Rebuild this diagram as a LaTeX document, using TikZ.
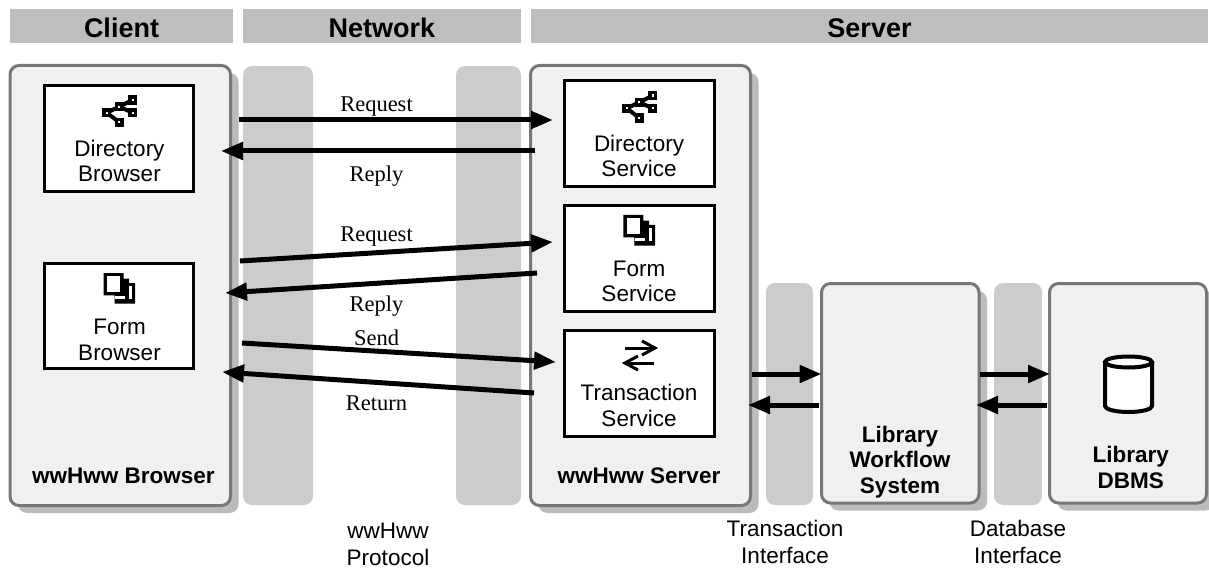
\documentclass[tikz,border=0pt]{standalone}
\usepackage{fontspec}
\setmainfont{Liberation Sans}
\newfontfamily\serifface{Liberation Serif}
\usetikzlibrary{arrows.meta}
\usetikzlibrary{shadows}

\definecolor{headgray}{HTML}{BEBEBE}
\definecolor{columngray}{HTML}{CCCCCC}
\definecolor{panelgray}{HTML}{F0F0F0}
\definecolor{bordergray}{HTML}{777777}
\definecolor{shadowgray}{HTML}{BBBBBB}

\tikzset{
	headbar/.style={fill=headgray, anchor=north west, inner sep=0pt, outer sep=0pt, text height=22.6pt, text depth=0pt, font=\fontsize{27}{30}\selectfont\bfseries},
	column/.style={fill=columngray, rounded corners=9pt, anchor=north west, inner sep=0pt, outer sep=0pt},
	panel/.style={fill=panelgray, draw=bordergray, line width=3pt, rounded corners=9pt, anchor=north west, inner sep=0pt, outer sep=0pt,
		drop shadow={shadow xshift=8pt, shadow yshift=-7.5pt, fill=shadowgray, opacity=1}},
	servicebox/.style={fill=white, draw=black, line width=3pt, anchor=north west, inner sep=0pt, outer sep=0pt},
	plain/.style={font=\fontsize{22.5}{25.3}\selectfont, align=center, inner sep=0pt, anchor=base},
	footer/.style={font=\fontsize{22.5}{26.7}\selectfont, align=center, inner sep=0pt, anchor=base},
	strong/.style={font=\fontsize{22.5}{25.5}\selectfont\bfseries, align=center, inner sep=0pt, anchor=base},
	msg/.style={font=\fontsize{22.5}{25}\serifface\selectfont, inner sep=0pt, anchor=base},
	flow/.style={line width=5pt, -{Triangle[length=22pt, width=17pt]}},
	treeicon/.pic={
		\draw[line width=4pt] (-12.6,6) -- (0,0) -- (13.4,-6.7);
		\draw[line width=4pt] (0,0) -- (13.4,6);
		\draw[line width=4pt] (-12.6,6) -- (0,15.6);
		\foreach \dotx/\doty in {-12.6/6, 0/0, 13.4/-6.7, 13.4/6, 0/15.6}
			\draw[line width=3.6pt, fill=white] (\dotx-2.9,\doty-2.9) rectangle (\dotx+2.9,\doty+2.9);
	},
	formicon/.pic={
		\fill (0,0) -- (20,0) -- (20,5.7) -- (25.7,5.7) -- (25.7,10) -- (31.7,10) -- (31.7,30.7) -- (11,30.7) -- (11,22.3) -- (0,22.3) -- cycle;
		\fill[white] (3.4,3.3) rectangle (16.7,19);
		\fill[white] (11.7,23.3) rectangle (21.7,25.7);
		\fill[white] (25.7,13) rectangle (28.4,25.7);
	},
	transicon/.pic={
		\draw[line width=3pt] (0,0) -- (30,0);
		\draw[line width=3pt] (17,-7) -- (30,0) -- (17,7);
		\draw[line width=3pt] (29,15) -- (0,15);
		\draw[line width=3pt] (13,8) -- (0,15) -- (13,22);
	},
}

\begin{document}
\begin{tikzpicture}[x=1pt, y=-1pt]
		\useasboundingbox (0,0) rectangle (1209,569);

		% Header bars
		\foreach \name/\xa/\wid/\word in {headclient/10/223/Client, headnetwork/243/278/Network, headserver/531/677/Server}
		\node[headbar, minimum width=\wid pt, minimum height=34pt] (\name) at (\xa,9) {\word};

		% Grey protocol columns
		\foreach \name/\xa/\ya/\wid/\hei in {netleft/243/66/70/439, netright/456/66/65/439, txcolumn/766/283/47/222, dbcolumn/994/283/48/222}
		\node[column, minimum width=\wid pt, minimum height=\hei pt] (\name) at (\xa,\ya) {};

		% Main panels
		\foreach \name/\xa/\ya/\wid/\hei in {browser/10/65.5/220.5/440, server/530.5/65.5/220/440, workflow/821.5/283.5/157.5/219.5, dbms/1049.5/283.5/157/219.5}
		\node[panel, minimum width=\wid pt, minimum height=\hei pt] (\name) at (\xa,\ya) {};

		% White boxes
		\foreach \name/\xa/\ya/\wid/\hei in {dirbrowser/44.8/85.5/149/106, formbrowser/44.8/263/149/105.5, dirservice/564.2/80.2/150/106.3, formservice/564.2/205.5/150/106, txservice/564.2/330.5/150/106}
		\node[servicebox, minimum width=\wid pt, minimum height=\hei pt] (\name) at (\xa,\ya) {};

		% Box texts
		\node[plain] (dirbrowsertext) at (119.5,182) {Directory\\Browser};
		\node[plain] (formbrowsertext) at (119.5,360) {Form\\Browser};
		\node[plain] (dirservicetext) at (639,176.7) {Directory\\Service};
		\node[plain] (formservicetext) at (639,301.7) {Form\\Service};
		\node[plain] (txservicetext) at (639,426) {Transaction\\Service};

		% Panel names
		\node[strong] (browsername) at (123.5,483) {wwHww Browser};
		\node[strong] (servername) at (639,483) {wwHww Server};
		\node[strong] (workflowname) at (900,493) {Library\\Workflow\\System};
		\node[strong] (dbmsname) at (1130.7,488) {Library\\DBMS};

		% Icons
		\pic at (119.3,106.7) {treeicon};
		\pic at (639.3,102.3) {treeicon};
		\pic at (103.5,273) {formicon};
		\pic at (623.3,215) {formicon};
		\pic at (625,348) {transicon};

		% Database drum
		\draw[line width=4pt, fill=white] (1105,362) -- (1105,406) arc[start angle=180, end angle=360, x radius=23.5pt, y radius=6pt] -- (1152,362);
		\draw[line width=4pt, fill=white] (1128.5,362) ellipse[x radius=23.5pt, y radius=5.5pt];

		% End points of the arrows
		\coordinate (reqa) at (239,120);
		\coordinate (reqb) at (553,120);
		\coordinate (repa) at (535,151);
		\coordinate (repb) at (221,151);
		\coordinate (reqc) at (240,261);
		\coordinate (reqd) at (553,242);
		\coordinate (repc) at (537,273);
		\coordinate (repd) at (225,293);
		\coordinate (senda) at (242,343);
		\coordinate (sendb) at (556,362);
		\coordinate (reta) at (534,393);
		\coordinate (retb) at (222,372);
		\coordinate (txa) at (752,374);
		\coordinate (txb) at (821.5,374);
		\coordinate (txc) at (819,405);
		\coordinate (txd) at (748,405);
		\coordinate (dba) at (980,374);
		\coordinate (dbb) at (1050,374);
		\coordinate (dbc) at (1047,405);
		\coordinate (dbd) at (976,405);

		% Draw the arrows
		\foreach \from/\to in {reqa/reqb, repa/repb, reqc/reqd, repc/repd, senda/sendb, reta/retb, txa/txb, txc/txd, dba/dbb, dbc/dbd}
		\draw[flow] (\from) -- (\to);

		% Arrow labels
		\foreach \name/\ya/\word in {lreqa/112/Request, lrepa/182/Reply, lreqb/241.7/Request, lrepb/311/Reply, lsend/345/Send, lret/410/Return}
		\node[msg] (\name) at (376.5,\ya) {\word};

		% Footer labels
		\node[footer] (protocol) at (388,565) {wwHww\\Protocol};
		\node[footer] (txinterface) at (785,563.3) {Transaction\\Interface};
		\node[footer] (dbinterface) at (1018,563.3) {Database\\Interface};
\end{tikzpicture}
\end{document}
